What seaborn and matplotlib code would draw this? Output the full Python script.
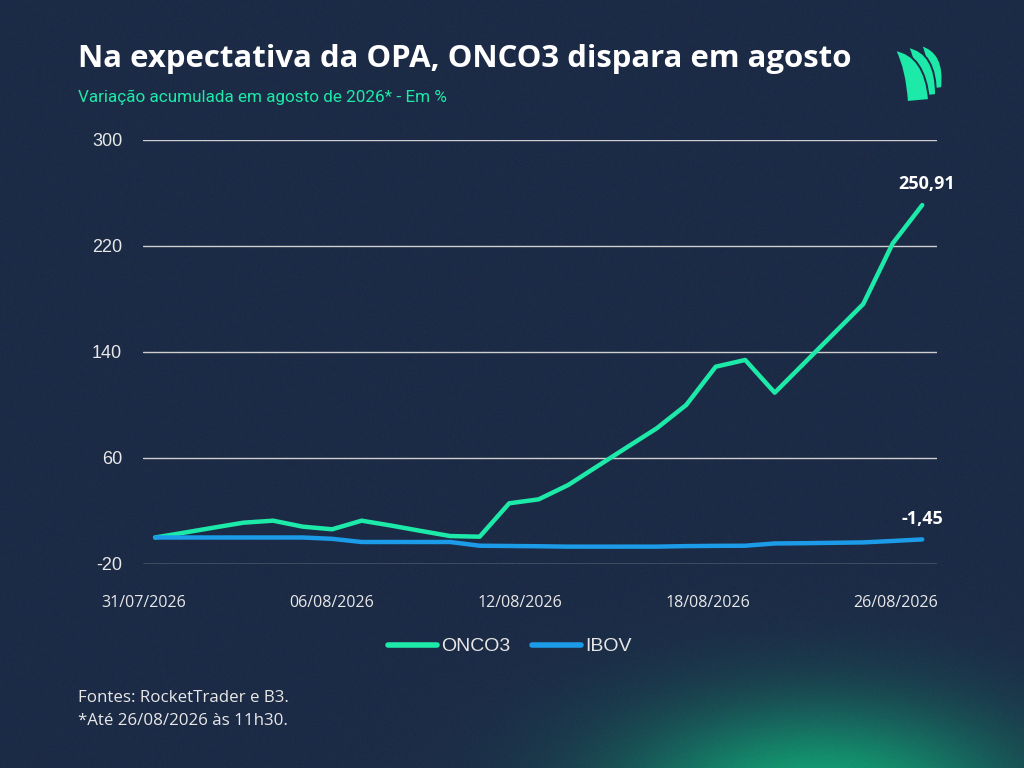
import numpy as np
import pandas as pd
import matplotlib
matplotlib.use("Agg")
import matplotlib.pyplot as plt
import seaborn as sns
from matplotlib.path import Path
from matplotlib.patches import PathPatch

# ---------------- data ----------------
dates = ["31/07/2026"] + [f"{d:02d}/08/2026" for d in range(1, 27)]
onco3 = [0.0, 3.7, 7.5, 11.2, 12.7, 8.2, 6.2, 12.7, 9.0, 5.0, 1.1, 0.6,
         25.8, 28.8, 39.6, 53.9, 68.2, 82.4, 100.0, 128.9, 134.0, 109.3,
         131.6, 153.9, 176.2, 222.0, 250.91]
ibov = [0.0, 0.0, 0.0, 0.0, 0.0, 0.0, -1.0, -3.4, -3.4, -3.4, -3.4, -6.2,
        -6.4, -6.6, -6.9, -6.9, -6.9, -6.9, -6.5, -6.3, -6.2, -4.5, -4.3,
        -4.0, -3.7, -2.6, -1.45]
series_names = ["ONCO3", "IBOV"]
tick_labels = ["31/07/2026", "06/08/2026", "12/08/2026", "18/08/2026", "26/08/2026"]
yticks = [-20, 60, 140, 220, 300]

df = pd.DataFrame({
    "idx": list(range(len(dates))) * 2,
    "value": onco3 + ibov,
    "serie": ["ONCO3"] * len(onco3) + ["IBOV"] * len(ibov),
})

BG = (28, 43, 70)
GREEN = "#1de9a8"
BLUE = "#1b9be8"
WHITE = "#ffffff"

sns.set_theme(style="white")
plt.rcParams["font.family"] = ["Liberation Sans", "DejaVu Sans"]

W, H = 1024, 768
fig = plt.figure(figsize=(W / 100, H / 100), dpi=100)

# background with glow
yy, xx = np.mgrid[0:H, 0:W]
g = np.exp(-(((xx - 820) / 200.0) ** 2 + ((yy - 800) / 95.0) ** 2))
base = np.array(BG, dtype=float)
glow = np.array((18, 165, 118), dtype=float)
img = base[None, None, :] * (1 - g[..., None]) + glow[None, None, :] * g[..., None]
rng = np.random.default_rng(1)
img = img + rng.normal(0, 1.5, img.shape)
img = np.clip(img, 0, 255).astype(np.uint8)
bg_ax = fig.add_axes([0, 0, 1, 1], zorder=-5)
bg_ax.imshow(img, aspect="auto", interpolation="bilinear")
bg_ax.axis("off")

# main axes
left, right, top, bottom = 143, 937, 140, 564
ax = fig.add_axes([left / W, 1 - bottom / H, (right - left) / W, (bottom - top) / H])
ax.set_facecolor("none")
sns.lineplot(data=df, x="idx", y="value", hue="serie", hue_order=series_names,
             palette={"ONCO3": GREEN, "IBOV": BLUE}, linewidth=3.2, ax=ax,
             legend=True)
for ln in ax.lines:
    ln.set_solid_capstyle("round")
    ln.set_solid_joinstyle("round")
ax.set_ylim(-20, 300)
ax.set_xlim(-0.41, 26.5)
ax.set_yticks(yticks)
ax.set_yticklabels([str(v) for v in yticks])
ax.set_xticks(np.linspace(-0.4, 25.1, 5))
ax.set_xticklabels(tick_labels)
ax.grid(axis="y", color="#cfcfcf", linewidth=1.0)
ax.grid(axis="x", visible=False)
ax.set_axisbelow(True)
for s in ax.spines.values():
    s.set_visible(False)
ax.tick_params(axis="y", colors="#e8e8e8", labelsize=13, length=0, pad=15)
ax.tick_params(axis="x", colors="#e8e8e8", labelsize=11.5, length=0, pad=22)
for t in ax.get_xticklabels():
    t.set_family(["Open Sans", "DejaVu Sans"])
ax.set_xlabel("")
ax.set_ylabel("")

# data labels
ax.annotate("250,91", (26, onco3[-1]), xytext=(3, 15), textcoords="offset points",
            ha="center", va="center", color=WHITE, fontsize=13, fontweight="bold",
            family=["Open Sans", "DejaVu Sans"])
ax.annotate("-1,45", (26, ibov[-1]), xytext=(0, 15), textcoords="offset points",
            ha="center", va="center", color=WHITE, fontsize=13, fontweight="bold",
            family=["Open Sans", "DejaVu Sans"])

# legend
handles, labels = ax.get_legend_handles_labels()
ax.legend(handles=handles, labels=labels, loc="center", bbox_to_anchor=(0.462, -0.195),
          ncol=2, frameon=False, fontsize=14, handlelength=2.55, columnspacing=1.1,
          handletextpad=0.2, labelcolor="#e6e6e6")
for h in ax.get_legend().legend_handles:
    h.set_linewidth(4)
    h.set_solid_capstyle("round")

# titles
fig.text(78 / W, 1 - 59 / H, "Na expectativa da OPA, ONCO3 dispara em agosto",
         color=WHITE, fontsize=22.4, fontweight="bold", va="center", ha="left",
         family=["Open Sans", "DejaVu Sans"])
fig.text(78 / W, 1 - 97 / H, "Variação acumulada em agosto de 2026* - Em %",
         color=GREEN, fontsize=12.3, va="center", ha="left",
         family=["Roboto", "DejaVu Sans"])

# footer
fig.text(78 / W, 1 - 698 / H, "Fontes: RocketTrader e B3.", color="#e8e8e8",
         fontsize=12.2, va="center", ha="left", family=["Open Sans", "DejaVu Sans"])
fig.text(78 / W, 1 - 721 / H, "*Até 26/08/2026 às 11h30.", color="#e8e8e8",
         fontsize=12.2, va="center", ha="left", family=["Open Sans", "DejaVu Sans"])

# logo (three sails)
logo_ax = fig.add_axes([0, 0, 1, 1], zorder=5)
logo_ax.set_xlim(0, W)
logo_ax.set_ylim(H, 0)
logo_ax.axis("off")
logo_ax.patch.set_alpha(0)
bgc = tuple(c / 255 for c in BG)
sails = [
    # tip, right ctrl, bottom-right, bottom-left, left ctrl
    ((921, 45), (946, 52), (942, 88), (928, 90), (929, 62)),
    ((908, 47), (936, 52), (936, 95), (917, 97), (917, 65)),
    ((895, 50), (925, 55), (929, 100), (907, 102), (905, 70)),
]
for T, cR, BR, BL, cL in sails:
    verts = [T, cR, BR, BL, cL, T, T]
    codes = [Path.MOVETO, Path.CURVE3, Path.CURVE3, Path.LINETO,
             Path.CURVE3, Path.CURVE3, Path.CLOSEPOLY]
    logo_ax.add_patch(PathPatch(Path(verts, codes), facecolor=GREEN,
                                edgecolor=bgc, linewidth=1.4))

fig.savefig("out.png", dpi=100, facecolor=bgc)
